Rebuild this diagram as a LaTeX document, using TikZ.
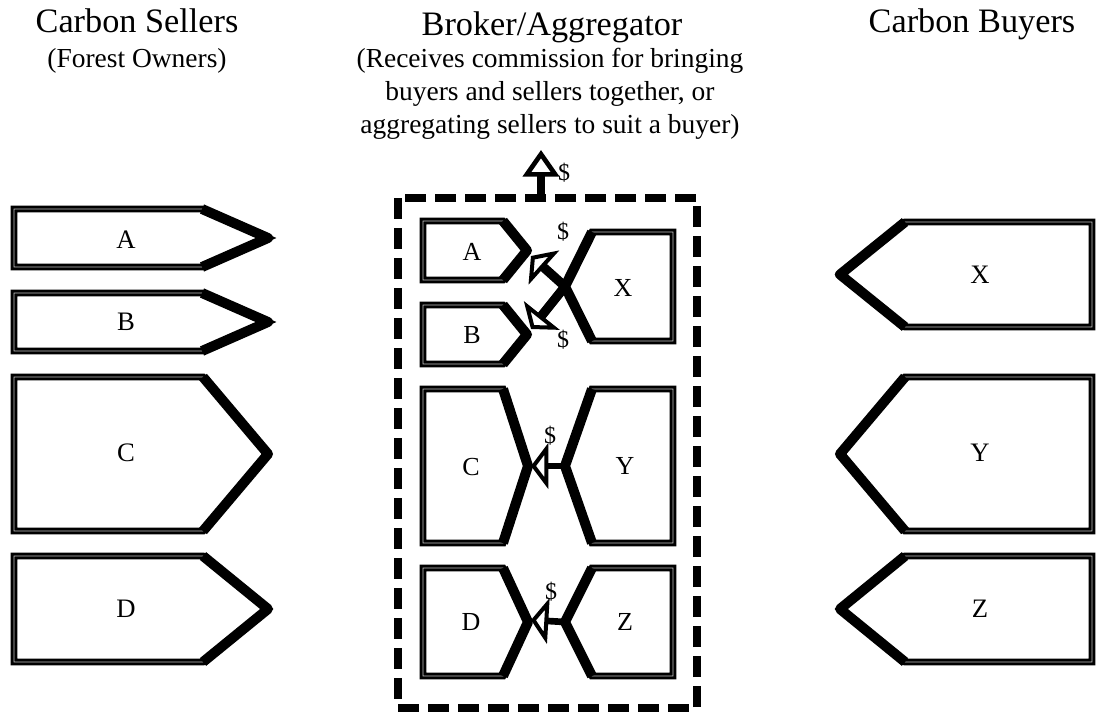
\documentclass[tikz,border=0pt]{standalone}
\usepackage{fontspec}
\setmainfont{Liberation Serif}
\usetikzlibrary{arrows.meta}
\tikzset{
  shp/.style={draw=black, line width=2.3pt, double=gray!45, double distance=0.5pt, line join=miter, fill=white},
  slant/.style={draw=black, line width=7.5pt, line join=round, line cap=butt},
  ttl/.style={font=\fontsize{25.7}{30}\selectfont, inner sep=0pt, anchor=base},
  sub/.style={font=\fontsize{20.6}{24}\selectfont, inner sep=0pt, anchor=base},
  lbl/.style={font=\fontsize{20}{22}\selectfont, inner sep=0pt},
  ilbl/.style={font=\fontsize{19.5}{22}\selectfont, inner sep=0pt},
  dol/.style={font=\fontsize{18}{20}\selectfont, inner sep=0pt},
  dbox/.style={draw=black, line width=5.5pt, dash pattern=on 16pt off 6.5pt},
  harr/.style={draw=black, line width=5pt, -{Triangle[open, length=13pt, width=34pt, line width=3pt]}},
  darr/.style={draw=black, line width=7pt, -{Triangle[open, length=13pt, width=34pt, line width=3pt]}},
  uarr/.style={draw=black, line width=5.5pt, -{Triangle[open, length=20pt, width=27pt, line width=3.5pt]}}
}
\newcommand{\PShape}[6]{%
  \path[shp] (#2,#3) -- (#5,#3) -- (#6,{(#3+#4)/2}) -- (#5,#4) -- (#2,#4) -- cycle;
  \draw[slant] (#5,#3) -- (#6,{(#3+#4)/2}) -- (#5,#4);
  \coordinate (#1) at (#6,{(#3+#4)/2});}
\begin{document}
\begin{tikzpicture}[x=0.75pt, y=-0.75pt]
\useasboundingbox (0,0) rectangle (1097,717);
% titles
\node[ttl] (tSell) at (137,33) {Carbon Sellers};
\node[sub] (tSellSub) at (137,68) {(Forest Owners)};
\node[ttl] (tBroker) at (552,36) {Broker/Aggregator};
\node[sub] (tBr1) at (550,68) {(Receives commission for bringing};
\node[sub] (tBr2) at (550,101) {buyers and sellers together, or};
\node[sub] (tBr3) at (550,133) {aggregating sellers to suit a buyer)};
\node[ttl] (tBuy) at (972,33) {Carbon Buyers};
% left sellers
\PShape{sA}{14}{209}{267}{202}{268}
\PShape{sB}{14}{293}{351}{202}{268}
\PShape{sC}{14}{377}{531}{203}{268}
\PShape{sD}{14}{556}{662}{203}{268}
\node[lbl] (lsA) at (126,240) {A};
\node[lbl] (lsB) at (126,322) {B};
\node[lbl] (lsC) at (126,453) {C};
\node[lbl] (lsD) at (126,609) {D};
% right buyers
\PShape{bX}{1092}{222}{327}{905}{840}
\PShape{bY}{1092}{377}{531}{905}{840}
\PShape{bZ}{1092}{556}{662}{905}{840}
\node[lbl] (lbX) at (980,275) {X};
\node[lbl] (lbY) at (980,453) {Y};
\node[lbl] (lbZ) at (980,609) {Z};
% broker box
\coordinate (boxTL) at (398,198);
\coordinate (boxBR) at (697,708);
\draw[dbox] (boxTL) rectangle (boxBR);
\coordinate (boxTop) at (541,196);
\coordinate (comm) at (541,150);
\draw[uarr] (boxTop) -- (comm);
\node[dol] (dUp) at (564,173) {\$};
% inner shapes
\PShape{iA}{423}{221}{280}{503}{527}
\PShape{iB}{423}{305}{364}{503}{527}
\PShape{iX}{673}{232}{341}{592}{565}
\PShape{iC}{423}{389}{543}{503}{528}
\PShape{iY}{673}{389}{543}{592}{565}
\PShape{iD}{423}{568}{676}{503}{528}
\PShape{iZ}{673}{568}{676}{592}{565}
\node[ilbl] (liA) at (472,252) {A};
\node[ilbl] (liB) at (472,335) {B};
\node[ilbl] (liX) at (623,288) {X};
\node[ilbl] (liC) at (471,467) {C};
\node[ilbl] (liY) at (625,466) {Y};
\node[ilbl] (liD) at (471,622) {D};
\node[ilbl] (liZ) at (625,622) {Z};
% payments
\coordinate (aA) at (531,256);
\coordinate (aB) at (531,329);
\coordinate (aC) at (531,466);
\coordinate (aD) at (531,620);
\draw[darr] (iX) -- (aA);
\draw[darr] (iX) -- (aB);
\draw[harr] (iY) -- (aC);
\draw[harr] (iZ) -- (aD);
\node[dol] (dA) at (563,232) {\$};
\node[dol] (dB) at (563,340) {\$};
\node[dol] (dC) at (550,436) {\$};
\node[dol] (dD) at (551,592) {\$};
\end{tikzpicture}
\end{document}
